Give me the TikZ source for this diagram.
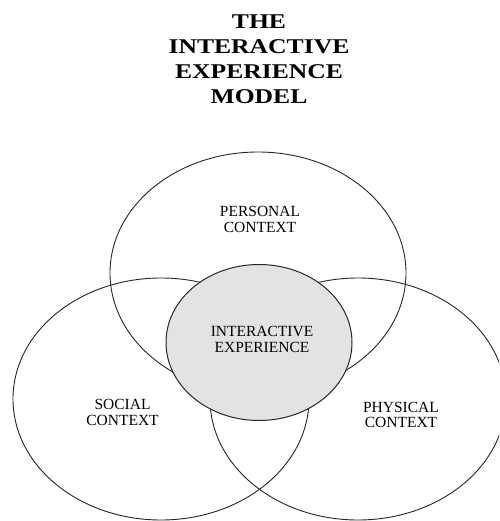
\documentclass[tikz,border=0pt]{standalone}
\usepackage{fontspec}
\setmainfont{Liberation Serif}
\usetikzlibrary{shapes.geometric}
\tikzset{
  ctx/.style={ellipse, draw=black!85, line width=0.9pt, inner sep=0pt,
    minimum width=296pt, minimum height=242pt},
  core/.style={ellipse, draw=black!85, line width=1pt, fill=black!11, inner sep=0pt,
    minimum width=186pt, minimum height=156pt},
  lbl/.style={align=center, inner sep=0pt, text=black,
    font=\fontsize{15.5}{15.5}\selectfont},
  ttl/.style={align=center, inner sep=0pt, text=black,
    font=\fontsize{21}{25}\selectfont\bfseries}
}
\newcommand{\widetitle}[1]{\scalebox{1.22}[1]{#1}}
\begin{document}
\begin{tikzpicture}[x=1pt,y=-1pt]
\useasboundingbox (0,0) rectangle (499,521);
\clip (0,0) rectangle (499,521);
\fill[white] (0,0) rectangle (499,521);
% context ellipses
\node[ctx] (personal) at (258,273) {};
\node[ctx] (social) at (161,399) {};
\node[ctx] (physical) at (358,399) {};
% interactive core
\node[core] (core) at (259,342.5) {};
% labels
\node[lbl] (lpers) at (260,219.5) {PERSONAL\\CONTEXT};
\node[lbl] (lcore) at (262,339.5) {INTERACTIVE\\EXPERIENCE};
\node[lbl] (lsoc) at (122.5,412.5) {SOCIAL\\CONTEXT};
\node[lbl] (lphys) at (401,415) {PHYSICAL\\CONTEXT};
% title
\node[ttl] (title) at (259,59) {\widetitle{THE}\\\widetitle{INTERACTIVE}\\\widetitle{EXPERIENCE}\\\widetitle{MODEL}};
\end{tikzpicture}
\end{document}
